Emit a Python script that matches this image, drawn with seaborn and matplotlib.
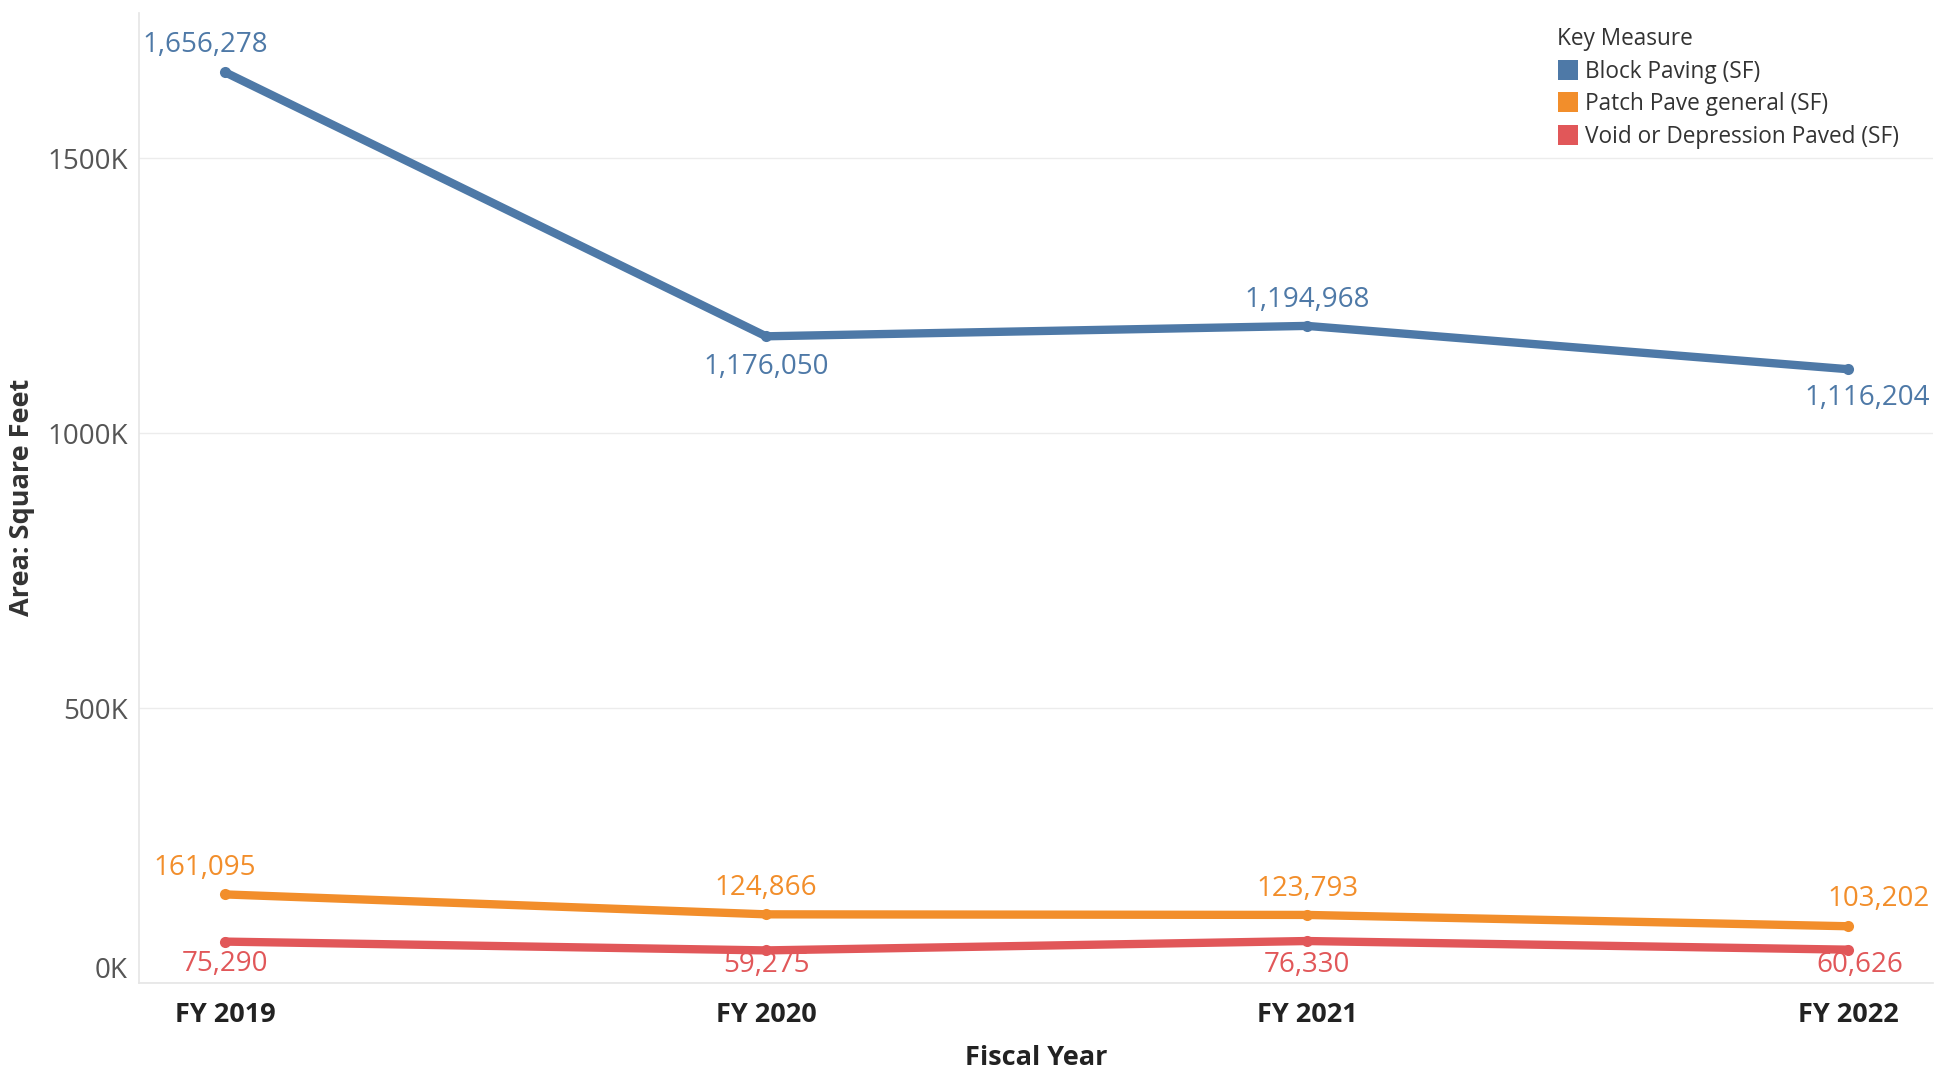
import matplotlib
matplotlib.use("Agg")
import matplotlib.pyplot as plt
import matplotlib.transforms as mtransforms
import seaborn as sns
import pandas as pd
from matplotlib.lines import Line2D

years = ["FY 2019", "FY 2020", "FY 2021", "FY 2022"]
block_paving = [1656278, 1176050, 1194968, 1116204]
patch_pave = [161095, 124866, 123793, 103202]
void_paved = [75290, 59275, 76330, 60626]
measures = ["Block Paving (SF)", "Patch Pave general (SF)", "Void or Depression Paved (SF)"]
colors = ["#4e79a7", "#f28e2b", "#e15759"]
label_colors = ["#4e79a7", "#f28e2b", "#e15759"]
y_ticks = [0, 500000, 1000000, 1500000]

rows = []
for m, vals in zip(measures, [block_paving, patch_pave, void_paved]):
    for i, (y, v) in enumerate(zip(years, vals)):
        rows.append({"Fiscal Year": i, "Year": y, "Key Measure": m, "Value": v})
df = pd.DataFrame(rows)

sns.set_theme(style="white")
plt.rcParams["font.family"] = ["Open Sans", "DejaVu Sans"]

fig = plt.figure(figsize=(19.49, 10.74), dpi=100)
ax = fig.add_axes([139/1949, 1-983/1074, (1933-139)/1949, (983-13)/1074])

sns.lineplot(data=df, x="Fiscal Year", y="Value", hue="Key Measure", palette=colors,
             linewidth=6, marker="o", markersize=8, markeredgewidth=0, ax=ax, legend=False,
             solid_capstyle="round")

ax.set_xlim(-0.159, 3.157)
ax.set_ylim(0, 1764000)
ax.set_yticks(y_ticks)
ax.set_yticklabels([f"{int(t/1000)}K" for t in y_ticks], fontsize=20, color="#555555")
ax.set_xticks(range(len(years)))
ax.set_xticklabels(years, fontsize=19.5, fontweight="bold", color="#222222")
ax.tick_params(axis="x", length=0, pad=14)
ax.tick_params(axis="y", length=0, pad=8)
ax.grid(axis="y", color="#ececec", linewidth=1)
ax.grid(axis="x", visible=False)
for s in ["top", "right"]:
    ax.spines[s].set_visible(False)
ax.spines["left"].set_color("#e6e6e6")
ax.spines["bottom"].set_color("#e6e6e6")
ax.set_axisbelow(True)

# Lift the 0K label slightly above the baseline, as in the reference
zero_lbl = ax.get_yticklabels()[0]
zero_lbl.set_transform(zero_lbl.get_transform() +
                       mtransforms.ScaledTranslation(0, 16/100, fig.dpi_scale_trans))

ax.set_ylabel("")
fig.text(22/1949, 1-497/1074, "Area: Square Feet", rotation=90, ha="center", va="center",
         fontsize=19.5, fontweight="bold", color="#333333")
ax.set_xlabel("Fiscal Year", fontsize=19.5, fontweight="bold", color="#222222", labelpad=12)

offsets = [
    [(-20, 27), (0, -31), (0, 26), (19, -29)],
    [(-20, 26), (0, 26), (0, 26), (31, 27)],
    [(0, -22), (0, -15), (0, -24), (12, -15)],
]
for mi, vals in enumerate([block_paving, patch_pave, void_paved]):
    for i, v in enumerate(vals):
        dx, dy = offsets[mi][i]
        ax.annotate(f"{v:,}", xy=(i, v), xytext=(dx, dy), textcoords="offset pixels",
                    ha="center", va="center", fontsize=20, color=label_colors[mi],
                    annotation_clip=False)

handles = [Line2D([0], [0], marker="s", linestyle="none", markersize=15,
                  markerfacecolor=c, markeredgewidth=0) for c in colors]
leg = fig.legend(handles, measures, loc="upper left", bbox_to_anchor=(1548/1949, 1-18/1074),
                 frameon=False, title="Key Measure", fontsize=16.3, title_fontsize=16.3,
                 alignment="left", handletextpad=0.25, labelspacing=0.38, handlelength=1.0,
                 borderaxespad=0)
for t in leg.get_texts():
    t.set_color("#333333")
leg.get_title().set_color("#333333")

fig.savefig("out.png", dpi=100)
